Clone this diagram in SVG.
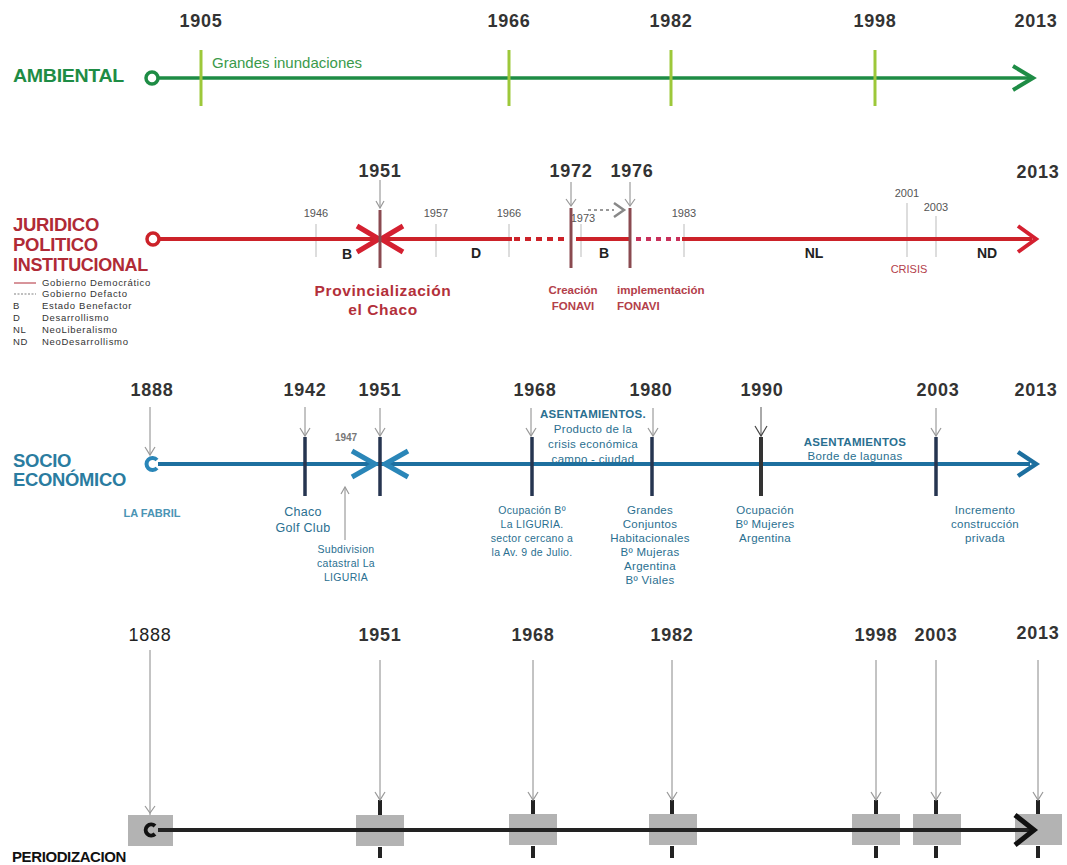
<svg xmlns="http://www.w3.org/2000/svg" width="1067" height="865" viewBox="0 0 1067 865">
<style>
.yr{font-family:"Liberation Sans",Arial,sans-serif;font-weight:bold;font-size:18px;fill:#333;text-anchor:middle;letter-spacing:0.8px}
.syr{font-family:"Liberation Sans",Arial,sans-serif;font-size:11px;fill:#555;text-anchor:middle}
.ttl{font-family:"Liberation Sans",Arial,sans-serif;font-weight:bold;font-size:18.5px;letter-spacing:-0.3px}
.g{fill:#1e8c45}.r{fill:#b02a36}.b{fill:#2a7ca0}
.lbl{font-family:"Liberation Sans",Arial,sans-serif;font-size:11.5px;fill:#2a6f90;text-anchor:middle;letter-spacing:0.3px}
.per{font-family:"Liberation Sans",Arial,sans-serif;font-weight:bold;font-size:14px;fill:#222;text-anchor:middle}
.leg{font-family:"Liberation Sans",Arial,sans-serif;font-size:9.5px;fill:#333;letter-spacing:0.7px}
.thin{stroke:#888;stroke-width:1;fill:none}
.v{stroke:#999;stroke-width:1.2;fill:none}
.chev{fill:none;stroke-linecap:butt;stroke-linejoin:miter}
</style>

<!-- AMBIENTAL -->
<g id="ambiental">
  <text class="yr" x="201" y="27">1905</text>
  <text class="yr" x="509" y="27">1966</text>
  <text class="yr" x="671" y="27">1982</text>
  <text class="yr" x="875" y="27">1998</text>
  <text class="yr" x="1036" y="27">2013</text>
  <text class="ttl g" x="13" y="82" textLength="111" lengthAdjust="spacingAndGlyphs">AMBIENTAL</text>
  <line x1="158" y1="78" x2="1030" y2="78" stroke="#1e8c45" stroke-width="3.5"/>
  <circle cx="152" cy="78" r="6" fill="#fff" stroke="#1e8c45" stroke-width="3.5"/>
  <polyline class="chev" points="1013,66 1033,78 1013,90" stroke="#1e8c45" stroke-width="4"/>
  <g stroke="#9dc83a" stroke-width="3">
    <line x1="201" y1="50" x2="201" y2="106"/>
    <line x1="509" y1="50" x2="509" y2="106"/>
    <line x1="671" y1="50" x2="671" y2="106"/>
    <line x1="875" y1="50" x2="875" y2="106"/>
  </g>
  <text x="212" y="68" font-family="Liberation Sans,Arial,sans-serif" font-size="15" fill="#3a9a4a">Grandes inundaciones</text>
</g>

<!-- JURIDICO -->
<g id="juridico">
  <text class="yr" x="380" y="177">1951</text>
  <text class="yr" x="571" y="177">1972</text>
  <text class="yr" x="632" y="177">1976</text>
  <text class="yr" x="1038" y="178">2013</text>
  <text class="ttl r" x="13" y="231">JURIDICO</text>
  <text class="ttl r" x="13" y="251">POLITICO</text>
  <text class="ttl r" x="13" y="271" textLength="135" lengthAdjust="spacingAndGlyphs">INSTITUCIONAL</text>
  <text class="syr" x="316" y="217">1946</text>
  <text class="syr" x="436" y="217">1957</text>
  <text class="syr" x="509" y="217">1966</text>
  <text class="syr" x="583" y="222">1973</text>
  <text class="syr" x="684" y="217">1983</text>
  <text class="syr" x="907" y="197">2001</text>
  <text class="syr" x="936" y="211">2003</text>
  <g stroke="#bbb" stroke-width="1">
    <line x1="316" y1="224" x2="316" y2="257"/>
    <line x1="436" y1="224" x2="436" y2="257"/>
    <line x1="509" y1="224" x2="509" y2="257"/>
    <line x1="581" y1="224" x2="581" y2="257"/>
    <line x1="684" y1="224" x2="684" y2="257"/>
    <line x1="907" y1="203" x2="907" y2="257"/>
    <line x1="936" y1="216" x2="936" y2="257"/>
  </g>
  <line x1="158" y1="239" x2="512" y2="239" stroke="#cc2229" stroke-width="4"/>
  <line x1="514" y1="239" x2="568" y2="239" stroke="#cc2229" stroke-width="4" stroke-dasharray="6,5"/>
  <line x1="576" y1="239" x2="630" y2="239" stroke="#cc2229" stroke-width="4"/>
  <line x1="636" y1="239" x2="680" y2="239" stroke="#c8305a" stroke-width="4" stroke-dasharray="5,5"/>
  <line x1="682" y1="239" x2="1032" y2="239" stroke="#cc2229" stroke-width="4"/>
  <circle cx="153" cy="239" r="6" fill="#fff" stroke="#cc2229" stroke-width="3.5"/>
  <polyline class="chev" points="1018,226 1036,239 1018,252" stroke="#d42030" stroke-width="4"/>
  <polyline class="chev" points="357,226 379,239 357,252" stroke="#d42030" stroke-width="5"/>
  <polyline class="chev" points="403,226 381,239 403,252" stroke="#d42030" stroke-width="5"/>
  <g stroke="#8a4a50" stroke-width="3">
    <line x1="380" y1="210" x2="380" y2="268"/>
    <line x1="571" y1="208" x2="571" y2="268"/>
    <line x1="630" y1="208" x2="630" y2="268"/>
  </g>
  <text class="per" x="347" y="259">B</text>
  <text class="per" x="476" y="258">D</text>
  <text class="per" x="604" y="258">B</text>
  <text class="per" x="814" y="258">NL</text>
  <text class="per" x="987" y="258">ND</text>
  <text x="383" y="296" font-family="Liberation Sans,Arial,sans-serif" font-weight="bold" font-size="15.5" fill="#b3303a" text-anchor="middle" letter-spacing="0.6">Provincialización</text>
  <text x="383" y="315" font-family="Liberation Sans,Arial,sans-serif" font-weight="bold" font-size="15.5" fill="#b3303a" text-anchor="middle" letter-spacing="0.6">el Chaco</text>
  <text x="573" y="294" font-family="Liberation Sans,Arial,sans-serif" font-weight="bold" font-size="11.5" fill="#b3404a" text-anchor="middle">Creación</text>
  <text x="573" y="310" font-family="Liberation Sans,Arial,sans-serif" font-weight="bold" font-size="11.5" fill="#b3404a" text-anchor="middle">FONAVI</text>
  <text x="617" y="294" font-family="Liberation Sans,Arial,sans-serif" font-weight="bold" font-size="11.5" fill="#b3404a">implementación</text>
  <text x="617" y="310" font-family="Liberation Sans,Arial,sans-serif" font-weight="bold" font-size="11.5" fill="#b3404a">FONAVI</text>
  <text x="909" y="273" font-family="Liberation Sans,Arial,sans-serif" font-size="11" fill="#b3404a" text-anchor="middle">CRISIS</text>
  <line x1="588" y1="210" x2="614" y2="210" stroke="#999" stroke-width="2" stroke-dasharray="3,3"/>
  <polyline class="chev" points="614,203 624,210 614,217" stroke="#888" stroke-width="2.5"/>
</g>

<!-- LEGEND -->
<g id="legend">
  <line x1="14" y1="283" x2="36" y2="283" stroke="#b02a36" stroke-width="1"/>
  <line x1="14" y1="294" x2="36" y2="294" stroke="#aaa" stroke-width="1.5" stroke-dasharray="2,1.5"/>
  <text class="leg" x="42" y="286">Gobierno Democrático</text>
  <text class="leg" x="42" y="297">Gobierno Defacto</text>
  <text class="leg" x="13" y="309">B</text><text class="leg" x="42" y="309">Estado Benefactor</text>
  <text class="leg" x="13" y="321">D</text><text class="leg" x="42" y="321">Desarrollismo</text>
  <text class="leg" x="13" y="333">NL</text><text class="leg" x="42" y="333">NeoLiberalismo</text>
  <text class="leg" x="13" y="345">ND</text><text class="leg" x="42" y="345">NeoDesarrollismo</text>
</g>

<!-- SOCIO ECONOMICO -->
<g id="socio">
  <text class="yr" x="152" y="396">1888</text>
  <text class="yr" x="305" y="396">1942</text>
  <text class="yr" x="380" y="396">1951</text>
  <text class="yr" x="535" y="396">1968</text>
  <text class="yr" x="651" y="396">1980</text>
  <text class="yr" x="762" y="396">1990</text>
  <text class="yr" x="938" y="396">2003</text>
  <text class="yr" x="1036" y="396">2013</text>
  <text class="ttl b" x="13" y="467">SOCIO</text>
  <text class="ttl b" x="13" y="486" textLength="113" lengthAdjust="spacingAndGlyphs">ECONÓMICO</text>
  <line x1="158" y1="464" x2="1030" y2="464" stroke="#1d6f9f" stroke-width="4"/>
  <path d="M157,460 A6,6 0 1 0 157,468" fill="none" stroke="#2a86b8" stroke-width="4"/>
  <polyline class="chev" points="1018,452 1036,464 1018,476" stroke="#1d6f9f" stroke-width="4.5"/>
  <polyline class="chev" points="352,451 375,464 352,477" stroke="#2a86b8" stroke-width="5"/>
  <polyline class="chev" points="408,451 385,464 408,477" stroke="#2a86b8" stroke-width="5"/>
  <g stroke="#263550" stroke-width="3.5">
    <line x1="305" y1="437" x2="305" y2="496"/>
    <line x1="380" y1="437" x2="380" y2="496"/>
    <line x1="532" y1="437" x2="532" y2="496"/>
    <line x1="652" y1="437" x2="652" y2="496"/>
    <line x1="936" y1="437" x2="936" y2="496"/>
  </g>
  <line x1="761" y1="437" x2="761" y2="496" stroke="#333" stroke-width="4"/>
  <text x="346" y="441" font-family="Liberation Sans,Arial,sans-serif" font-weight="bold" font-size="10" fill="#777" text-anchor="middle">1947</text>
  <text x="152" y="517" font-family="Liberation Sans,Arial,sans-serif" font-weight="bold" font-size="11" fill="#4a94b4" text-anchor="middle">LA FABRIL</text>
  <text class="lbl" x="303" y="516" style="font-size:12.5px">Chaco</text>
  <text class="lbl" x="303" y="532" style="font-size:12.5px">Golf Club</text>
  <text class="lbl" x="346" y="553" style="font-size:10.5px">Subdivision</text>
  <text class="lbl" x="346" y="567" style="font-size:10.5px">catastral La</text>
  <text class="lbl" x="346" y="581" style="font-size:10.5px">LIGURIA</text>
  <text class="lbl" x="532" y="514" style="font-size:10.5px">Ocupación Bº</text>
  <text class="lbl" x="532" y="528" style="font-size:10.5px">La LIGURIA.</text>
  <text class="lbl" x="532" y="542" style="font-size:10.5px">sector cercano a</text>
  <text class="lbl" x="532" y="556" style="font-size:10.5px">la Av. 9 de Julio.</text>
  <text class="lbl" x="593" y="418" style="font-weight:bold;font-size:11.5px">ASENTAMIENTOS.</text>
  <text class="lbl" x="593" y="433">Producto  de la</text>
  <text class="lbl" x="593" y="448">crisis económica</text>
  <text class="lbl" x="593" y="463">campo - ciudad</text>
  <text class="lbl" x="650" y="514">Grandes</text>
  <text class="lbl" x="650" y="528">Conjuntos</text>
  <text class="lbl" x="650" y="542">Habitacionales</text>
  <text class="lbl" x="650" y="556">Bº Mujeras</text>
  <text class="lbl" x="650" y="570">Argentina</text>
  <text class="lbl" x="650" y="584">Bº Viales</text>
  <text class="lbl" x="765" y="514">Ocupación</text>
  <text class="lbl" x="765" y="528">Bº Mujeres</text>
  <text class="lbl" x="765" y="542">Argentina</text>
  <text class="lbl" x="855" y="446" style="font-weight:bold;font-size:11.5px">ASENTAMIENTOS</text>
  <text class="lbl" x="855" y="460">Borde de lagunas</text>
  <text class="lbl" x="985" y="514">Incremento</text>
  <text class="lbl" x="985" y="528">construcción</text>
  <text class="lbl" x="985" y="542">privada</text>
</g>

<!-- PERIODIZACION -->
<g id="periodizacion">
  <text class="yr" x="150" y="641" style="font-weight:normal;fill:#222">1888</text>
  <text class="yr" x="380" y="641">1951</text>
  <text class="yr" x="533" y="641">1968</text>
  <text class="yr" x="672" y="641">1982</text>
  <text class="yr" x="876" y="641">1998</text>
  <text class="yr" x="936" y="641">2003</text>
  <text class="yr" x="1038" y="639">2013</text>
  <g fill="#b3b3b3">
    <rect x="128" y="815" width="45" height="31"/>
    <rect x="356" y="815" width="48" height="31"/>
    <rect x="509" y="814" width="48" height="31"/>
    <rect x="649" y="814" width="48" height="31"/>
    <rect x="852" y="814" width="48" height="31"/>
    <rect x="913" y="814" width="48" height="31"/>
    <rect x="1015" y="814" width="47" height="31"/>
  </g>
  <g stroke="#222" stroke-width="4">
    <line x1="380" y1="800" x2="380" y2="815"/>
    <line x1="533" y1="800" x2="533" y2="814"/>
    <line x1="672" y1="800" x2="672" y2="814"/>
    <line x1="876" y1="800" x2="876" y2="814"/>
    <line x1="936" y1="800" x2="936" y2="814"/>
    <line x1="1038" y1="800" x2="1038" y2="814"/>
    <line x1="380" y1="847" x2="380" y2="858"/>
    <line x1="533" y1="846" x2="533" y2="858"/>
    <line x1="672" y1="846" x2="672" y2="858"/>
    <line x1="876" y1="846" x2="876" y2="858"/>
    <line x1="936" y1="846" x2="936" y2="858"/>
    <line x1="1038" y1="846" x2="1038" y2="858"/>
  </g>
  <line x1="158" y1="830" x2="1030" y2="830" stroke="#222" stroke-width="4"/>
  <path d="M155,826 A5.5,5.5 0 1 0 155,834" fill="none" stroke="#111" stroke-width="4"/>
  <polyline class="chev" points="1015,815 1034,830 1015,845" stroke="#111" stroke-width="5"/>
  <text x="12" y="862" font-family="Liberation Sans,Arial,sans-serif" font-weight="bold" font-size="15" fill="#111" letter-spacing="-0.4">PERIODIZACION</text>
</g>

<!-- connectors: thin year pointers -->
<g id="connectors">
  <g class="thin">
    <line x1="380" y1="180" x2="380" y2="208"/>
    <line x1="571" y1="182" x2="571" y2="206"/>
    <line x1="630" y1="182" x2="630" y2="206"/>
    <line x1="150" y1="407" x2="150" y2="455"/>
    <line x1="305" y1="407" x2="305" y2="436"/>
    <line x1="380" y1="408" x2="380" y2="436"/>
    <line x1="531" y1="408" x2="531" y2="436"/>
    <line x1="653" y1="408" x2="653" y2="436"/>
    <line x1="761" y1="407" x2="761" y2="436" stroke="#555"/>
    <line x1="936" y1="408" x2="936" y2="436"/>
    <line x1="345" y1="540" x2="345" y2="487"/>
    <line x1="150" y1="650" x2="150" y2="815"/>
    <line x1="380" y1="660" x2="380" y2="800"/>
    <line x1="533" y1="660" x2="533" y2="800"/>
    <line x1="672" y1="660" x2="672" y2="800"/>
    <line x1="876" y1="660" x2="876" y2="800"/>
    <line x1="936" y1="660" x2="936" y2="800"/>
    <line x1="1038" y1="660" x2="1038" y2="800"/>
  </g>
  <g class="v">
    <polyline points="376,201 380,208 384,201"/>
    <polyline points="566,199 571,206 576,199"/>
    <polyline points="625,199 630,206 635,199"/>
    <polyline points="145,447 150,455 155,447"/>
    <polyline points="300,428 305,436 310,428"/>
    <polyline points="375,428 380,436 385,428"/>
    <polyline points="526,428 531,436 536,428"/>
    <polyline points="648,428 653,436 658,428"/>
    <polyline points="755,426 761,436 767,426" stroke="#444"/>
    <polyline points="931,428 936,436 941,428"/>
    <polyline points="341,494 345,487 349,494"/>
    <polyline points="145,806 150,813 155,806"/>
    <polyline points="375,792 380,800 385,792"/>
    <polyline points="528,792 533,800 538,792"/>
    <polyline points="667,792 672,800 677,792"/>
    <polyline points="871,792 876,800 881,792"/>
    <polyline points="931,792 936,800 941,792"/>
    <polyline points="1033,792 1038,800 1043,792"/>
  </g>
</g>
</svg>
